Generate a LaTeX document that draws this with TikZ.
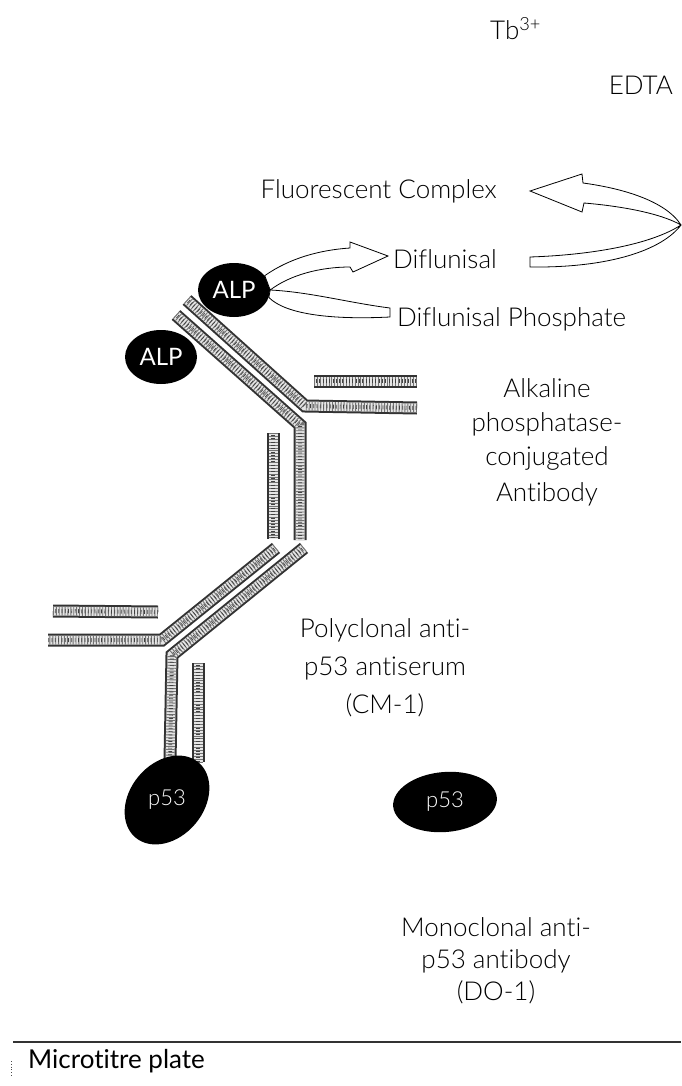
\documentclass[tikz,border=0pt]{standalone}
\usepackage{fontspec}
\setmainfont{Lato}[UprightFont={* Light}, BoldFont={*}, Ligatures=NoCommon]
\usetikzlibrary{shapes.geometric}
\newcommand\abband[1]{\draw[bandout] #1; \draw[bandin] #1; \draw[bandsp] #1; \draw[bandsq] #1;}
\begin{document}
\begin{tikzpicture}[x=1pt,y=-1pt,
  lbl/.style={font=\fontsize{26}{30}\selectfont, inner sep=0pt, text=black},
  bandout/.style={line width=13pt, draw=black!80, line join=miter},
  bandin/.style={line width=9pt, draw=gray!20, line join=miter},
  bandsp/.style={line width=9pt, draw=black!55, dash pattern=on 0.9pt off 2pt, line join=miter},
  bandsq/.style={line width=4pt, draw=black!75, dash pattern=on 0.7pt off 2.6pt, dash phase=1.3pt, line join=miter},
  enz/.style={ellipse, fill=black, inner sep=0pt, minimum width=72pt, minimum height=54pt},
  enztxt/.style={text=white, inner sep=0pt, font=\fontsize{24}{24}\selectfont\bfseries},
  ptn/.style={ellipse, fill=black, inner sep=0pt},
  ptntxt/.style={text=white, inner sep=0pt, font=\fontsize{22}{22}\selectfont},
  flow/.style={draw=black, fill=white, line width=0.8pt, line join=miter}
]
\useasboundingbox (0,0) rectangle (681,1086);
\fill[white] (0,0) rectangle (681,1086);

% texts top
\node[lbl, anchor=base west] (tb) at (490,40) {Tb\textsuperscript{3+}};
\node[lbl, anchor=base east] (edta) at (673,95) {EDTA};
\node[lbl, anchor=base east] (fc) at (497,198) {Fluorescent Complex};
\node[lbl, anchor=base west] (dif) at (393,268) {Diflunisal};
\node[lbl, anchor=base west] (difp) at (397,326) {Diflunisal Phosphate};

% antibody bands: upper (ALP-conjugated)
\abband{(187,300) -- (305,406) -- (417,408)}
\abband{(176,315) -- (300,425) -- (300,540)}
\abband{(314,381) -- (417,381)}
\abband{(273,433) -- (273,539)}
% lower (polyclonal)
\abband{(276,548) -- (162,640) -- (48,640)}
\abband{(304,548) -- (172,655) -- (170,761)}
\abband{(53,611) -- (158,612)}
\abband{(198,663) -- (198,762)}

% enzymes
\node[enz] (alp1) at (234,290) {};
\node[enztxt] (alp1t) at (alp1.center) {ALP};
\node[enz] (alp2) at (161,357) {};
\node[enztxt] (alp2t) at (alp2.center) {ALP};

% reaction arrows from ALP
\draw[flow] (alp1.25) .. controls (290,258) and (320,250) .. (350,248) -- (350,242) -- (388,256) -- (353,272) -- (350,267) .. controls (320,267) and (290,275) .. (alp1.east) -- cycle;
\draw[flow] (alp1.east) .. controls (310,292) and (350,303) .. (390,308) -- (390,317) .. controls (330,320) and (285,314) .. (alp1.-12) -- cycle;

% U-turn arrow Diflunisal -> Fluorescent Complex
\coordinate (ufold) at (681,225);
\draw[flow] (530,267) .. controls (610,268) and (662,250) .. (ufold) .. controls (665,200) and (620,188) .. (583,183) -- (582,174) -- (530,191) -- (582,212) -- (584,203) .. controls (620,206) and (660,213) .. (ufold) .. controls (650,245) and (590,255) .. (530,257) -- cycle;

% p53
\node[ptn, minimum width=98pt, minimum height=74pt, rotate=50] (p53a) at (167,800) {};
\node[ptntxt] (p53at) at (p53a.center) {p53};
\node[ptn, minimum width=104pt, minimum height=60pt, rotate=5] (p53b) at (445,802) {};
\node[ptntxt] (p53bt) at (p53b.center) {p53};

% labels
\node[lbl, anchor=base] (alk1) at (547,397) {Alkaline};
\node[lbl, anchor=base] (alk2) at (547,431) {phosphatase-};
\node[lbl, anchor=base] (alk3) at (547,465) {conjugated};
\node[lbl, anchor=base] (alk4) at (547,501) {Antibody};

\node[lbl, anchor=base] (pol1) at (385,637) {Polyclonal anti-};
\node[lbl, anchor=base] (pol2) at (385,675) {p53 antiserum};
\node[lbl, anchor=base] (pol3) at (385,713) {(CM-1)};

\node[lbl, anchor=base] (mon1) at (496,936) {Monoclonal anti-};
\node[lbl, anchor=base] (mon2) at (496,968) {p53 antibody};
\node[lbl, anchor=base] (mon3) at (496,1000) {(DO-1)};

% plate
\coordinate (pl) at (13,1042);
\coordinate (pr) at (681,1042);
\draw[black!80, line width=1.3pt] (pl) -- (pr);
\draw[black!70, dotted, line width=0.8pt] (11,1061) -- (11,1077);
\node[lbl, anchor=base west, font=\fontsize{26}{30}\selectfont\bfseries] (mp) at (28,1068) {Microtitre plate};
\end{tikzpicture}
\end{document}
